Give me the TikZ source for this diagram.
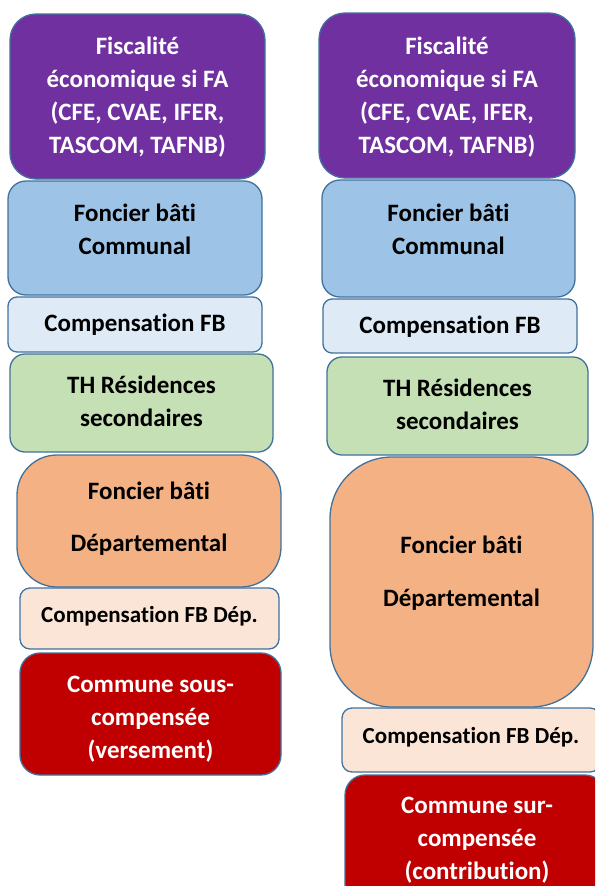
\documentclass[tikz,border=0pt]{standalone}
\usepackage{fontspec}
\setmainfont[Ligatures={NoCommon}]{Carlito}
\usepackage{tikz}
\usetikzlibrary{positioning}
\definecolor{bordure}{HTML}{41719C}
\definecolor{violet}{HTML}{7030A0}
\definecolor{bleu}{HTML}{9DC3E6}
\definecolor{bleuclair}{HTML}{DEEBF7}
\definecolor{vert}{HTML}{C5E0B4}
\definecolor{orange}{HTML}{F4B183}
\definecolor{orangeclair}{HTML}{FBE5D6}
\definecolor{rouge}{HTML}{C00000}

\tikzset{
  bloc/.style={draw=bordure, line width=1.3pt, rounded corners=#1, inner sep=0pt},
  bloc/.default=10pt,
  texte/.style={font=\bfseries\fontsize{25}{33}\selectfont, align=center, text=black},
  petit/.style={font=\bfseries\fontsize{23}{28}\selectfont},
}

\begin{document}
\begin{tikzpicture}[x=1pt, y=-1pt]
  \useasboundingbox (0,0) rectangle (595,886);
  \clip (0,0) rectangle (595,886);

  % colonne de gauche : commune sous-compensee
  \node[bloc=26pt, fill=violet, minimum width=255pt, minimum height=165pt] (g1) at (137.5,96.5) {};
  \node[bloc=18pt, fill=bleu, minimum width=254pt, minimum height=114pt] (g2) at (135,238) {};
  \node[bloc=9pt, fill=bleuclair, minimum width=254pt, minimum height=55pt] (g3) at (135,324.5) {};
  \node[bloc=15pt, fill=vert, minimum width=263pt, minimum height=98pt] (g4) at (141.5,403) {};
  \node[bloc=40pt, fill=orange, minimum width=264pt, minimum height=132pt] (g5) at (149,521) {};
  \node[bloc, fill=orangeclair, minimum width=259pt, minimum height=61pt] (g6) at (149.5,618.5) {};
  \node[bloc=20pt, fill=rouge, minimum width=261pt, minimum height=122pt] (g7) at (150.5,714) {};

  \node[texte, text=white] (tg1) at (137.5,97) {Fiscalité\\économique si FA\\(CFE, CVAE, IFER,\\TASCOM, TAFNB)};
  \node[texte] (tg2) at (135,229) {Foncier bâti\\Communal};
  \node[texte] (tg3) at (135,325) {Compensation FB};
  \node[texte] (tg4) at (141.5,401.5) {TH Résidences\\secondaires};
  \node[texte, font=\bfseries\fontsize{25}{52}\selectfont] (tg5) at (149,519) {Foncier bâti\\Départemental};
  \node[texte, petit] (tg6) at (149.5,616) {Compensation FB Dép.};
  \node[texte, text=white] (tg7) at (150.5,719) {Commune sous-\\compensée\\(versement)};

  % colonne de droite : commune sur-compensee
  \node[bloc=26pt, fill=violet, minimum width=256pt, minimum height=165pt] (d1) at (447,95.5) {};
  \node[bloc=18pt, fill=bleu, minimum width=253pt, minimum height=117pt] (d2) at (448.5,238.5) {};
  \node[bloc=9pt, fill=bleuclair, minimum width=254pt, minimum height=54pt] (d3) at (450,326) {};
  \node[bloc=15pt, fill=vert, minimum width=261pt, minimum height=98pt] (d4) at (457.5,406) {};
  \node[bloc=62pt, fill=orange, minimum width=263pt, minimum height=250pt] (d5) at (461.5,582) {};
  \node[bloc, fill=orangeclair, minimum width=258pt, minimum height=64pt] (d6) at (471,740) {};
  \node[bloc=20pt, fill=rouge, minimum width=260pt, minimum height=130pt] (d7) at (475,840) {};

  \node[texte, text=white] (td1) at (447,97) {Fiscalité\\économique si FA\\(CFE, CVAE, IFER,\\TASCOM, TAFNB)};
  \node[texte] (td2) at (448.5,229) {Foncier bâti\\Communal};
  \node[texte] (td3) at (450,327) {Compensation FB};
  \node[texte] (td4) at (457.5,404) {TH Résidences\\secondaires};
  \node[texte, font=\bfseries\fontsize{25}{53}\selectfont] (td5) at (461.5,573) {Foncier bâti\\Départemental};
  \node[texte, petit] (td6) at (471,737) {Compensation FB Dép.};
  \node[texte, text=white] (td7) at (477,840) {Commune sur-\\compensée\\(contribution)};
\end{tikzpicture}
\end{document}
